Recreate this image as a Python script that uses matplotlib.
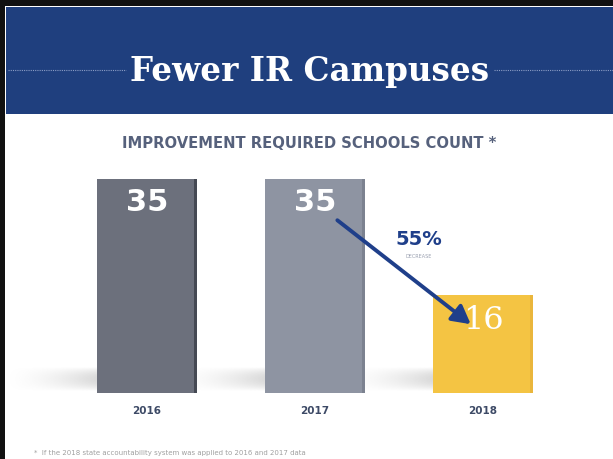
import numpy as np
import matplotlib.pyplot as plt
from matplotlib.patches import Rectangle

years = ['2016', '2017', '2018']
counts = [35, 35, 16]
bar_colors = ['#6c707c', '#8e94a2', '#f4c443']
edge_colors = ['#454953', '#7c8290', '#eab63c']
title = 'Fewer IR Campuses'
subtitle = 'IMPROVEMENT REQUIRED SCHOOLS COUNT *'
footnote = '*  If the 2018 state accountability system was applied to 2016 and 2017 data'

W, H = 613, 460
fig = plt.figure(figsize=(W / 100, H / 100), dpi=100)
fig.patch.set_facecolor('white')

# banner
fig.add_artist(Rectangle((6 / W, (H - 115) / H), 1, 107 / H, transform=fig.transFigure,
                         facecolor='#1f3f7e', edgecolor='none'))
# black frame left/top
fig.add_artist(Rectangle((0, 0), 5 / W, 1, transform=fig.transFigure, facecolor='#111111', edgecolor='none'))
fig.add_artist(Rectangle((0, (H - 7) / H), 1, 7 / H, transform=fig.transFigure, facecolor='#111111', edgecolor='none'))
fig.add_artist(plt.Line2D([8 / W, 126 / W], [(H - 71) / H] * 2, transform=fig.transFigure,
                          color='#8a9cc4', lw=0.8, ls=(0, (1, 1))))
fig.add_artist(plt.Line2D([494 / W, 1], [(H - 71) / H] * 2, transform=fig.transFigure,
                          color='#8a9cc4', lw=0.8, ls=(0, (1, 1))))
fig.text(310 / W, (H - 71) / H, title, ha='center', va='center', color='white',
         fontsize=23.5, fontweight='bold', family='DejaVu Serif')
fig.text(309 / W, (H - 144) / H, subtitle, ha='center', va='center', color='#56617c',
         fontsize=10.6, fontweight='bold', family='DejaVu Sans')
fig.text(34 / W, (H - 453) / H, footnote, ha='left', va='center', color='#a0a0a0', fontsize=5)

ax = fig.add_axes([63 / W, 66 / H, 504 / W, 244 / H])
x = np.arange(len(years))

# soft floor shadows to the left of each bar
n = 120
hx = np.linspace(0, 1, n) ** 1.6
vy = np.sin(np.linspace(0, np.pi, 40)) ** 0.8
grad = np.zeros((40, n, 4))
grad[..., :3] = 0.6
grad[..., 3] = 0.38 * np.outer(vy, hx)
for xi in x:
    ax.imshow(grad, extent=(xi - 0.85, xi - 0.28, 0.4, 4.2), aspect='auto', zorder=1,
              interpolation='bicubic', clip_on=False)

bars = ax.bar(x, counts, width=0.6, color=bar_colors, zorder=3)
# darker right edge for a slight 3D look
ax.bar(x + 0.29, counts, width=0.02, color=edge_colors, zorder=3)
for b, c in zip(bars, counts):
    if c == 16:
        ax.text(b.get_x() + b.get_width() / 2, c - 1.4, str(c), ha='center', va='top',
                color='white', fontsize=23, family='DejaVu Serif')
    else:
        ax.text(b.get_x() + b.get_width() / 2, c - 1.2, str(c), ha='center', va='top',
                color='white', fontsize=22, fontweight='bold', family='DejaVu Sans')
ax.set_xlim(-0.5, 2.5)
ax.set_ylim(0, 40)
ax.set_xticks(x)
ax.set_xticklabels(years, fontsize=7.5, fontweight='bold', color='#3d4a66')
ax.tick_params(length=0, pad=9)
ax.set_yticks([])
for s in ax.spines.values():
    s.set_visible(False)
ax.patch.set_alpha(0)

ax.annotate('', xy=(1.94, 11.0), xytext=(1.12, 28.6),
            arrowprops=dict(arrowstyle='-|>,head_width=0.6,head_length=1.1', color='#1f3f8a', lw=2.8),
            zorder=5)
ax.text(1.62, 25.3, '55%', ha='center', va='center', color='#1f3f8a', fontsize=14, fontweight='bold')
ax.text(1.62, 22.5, 'DECREASE', ha='center', va='center', color='#9aa0b0', fontsize=3.5)

fig.savefig('out.png', dpi=100)
